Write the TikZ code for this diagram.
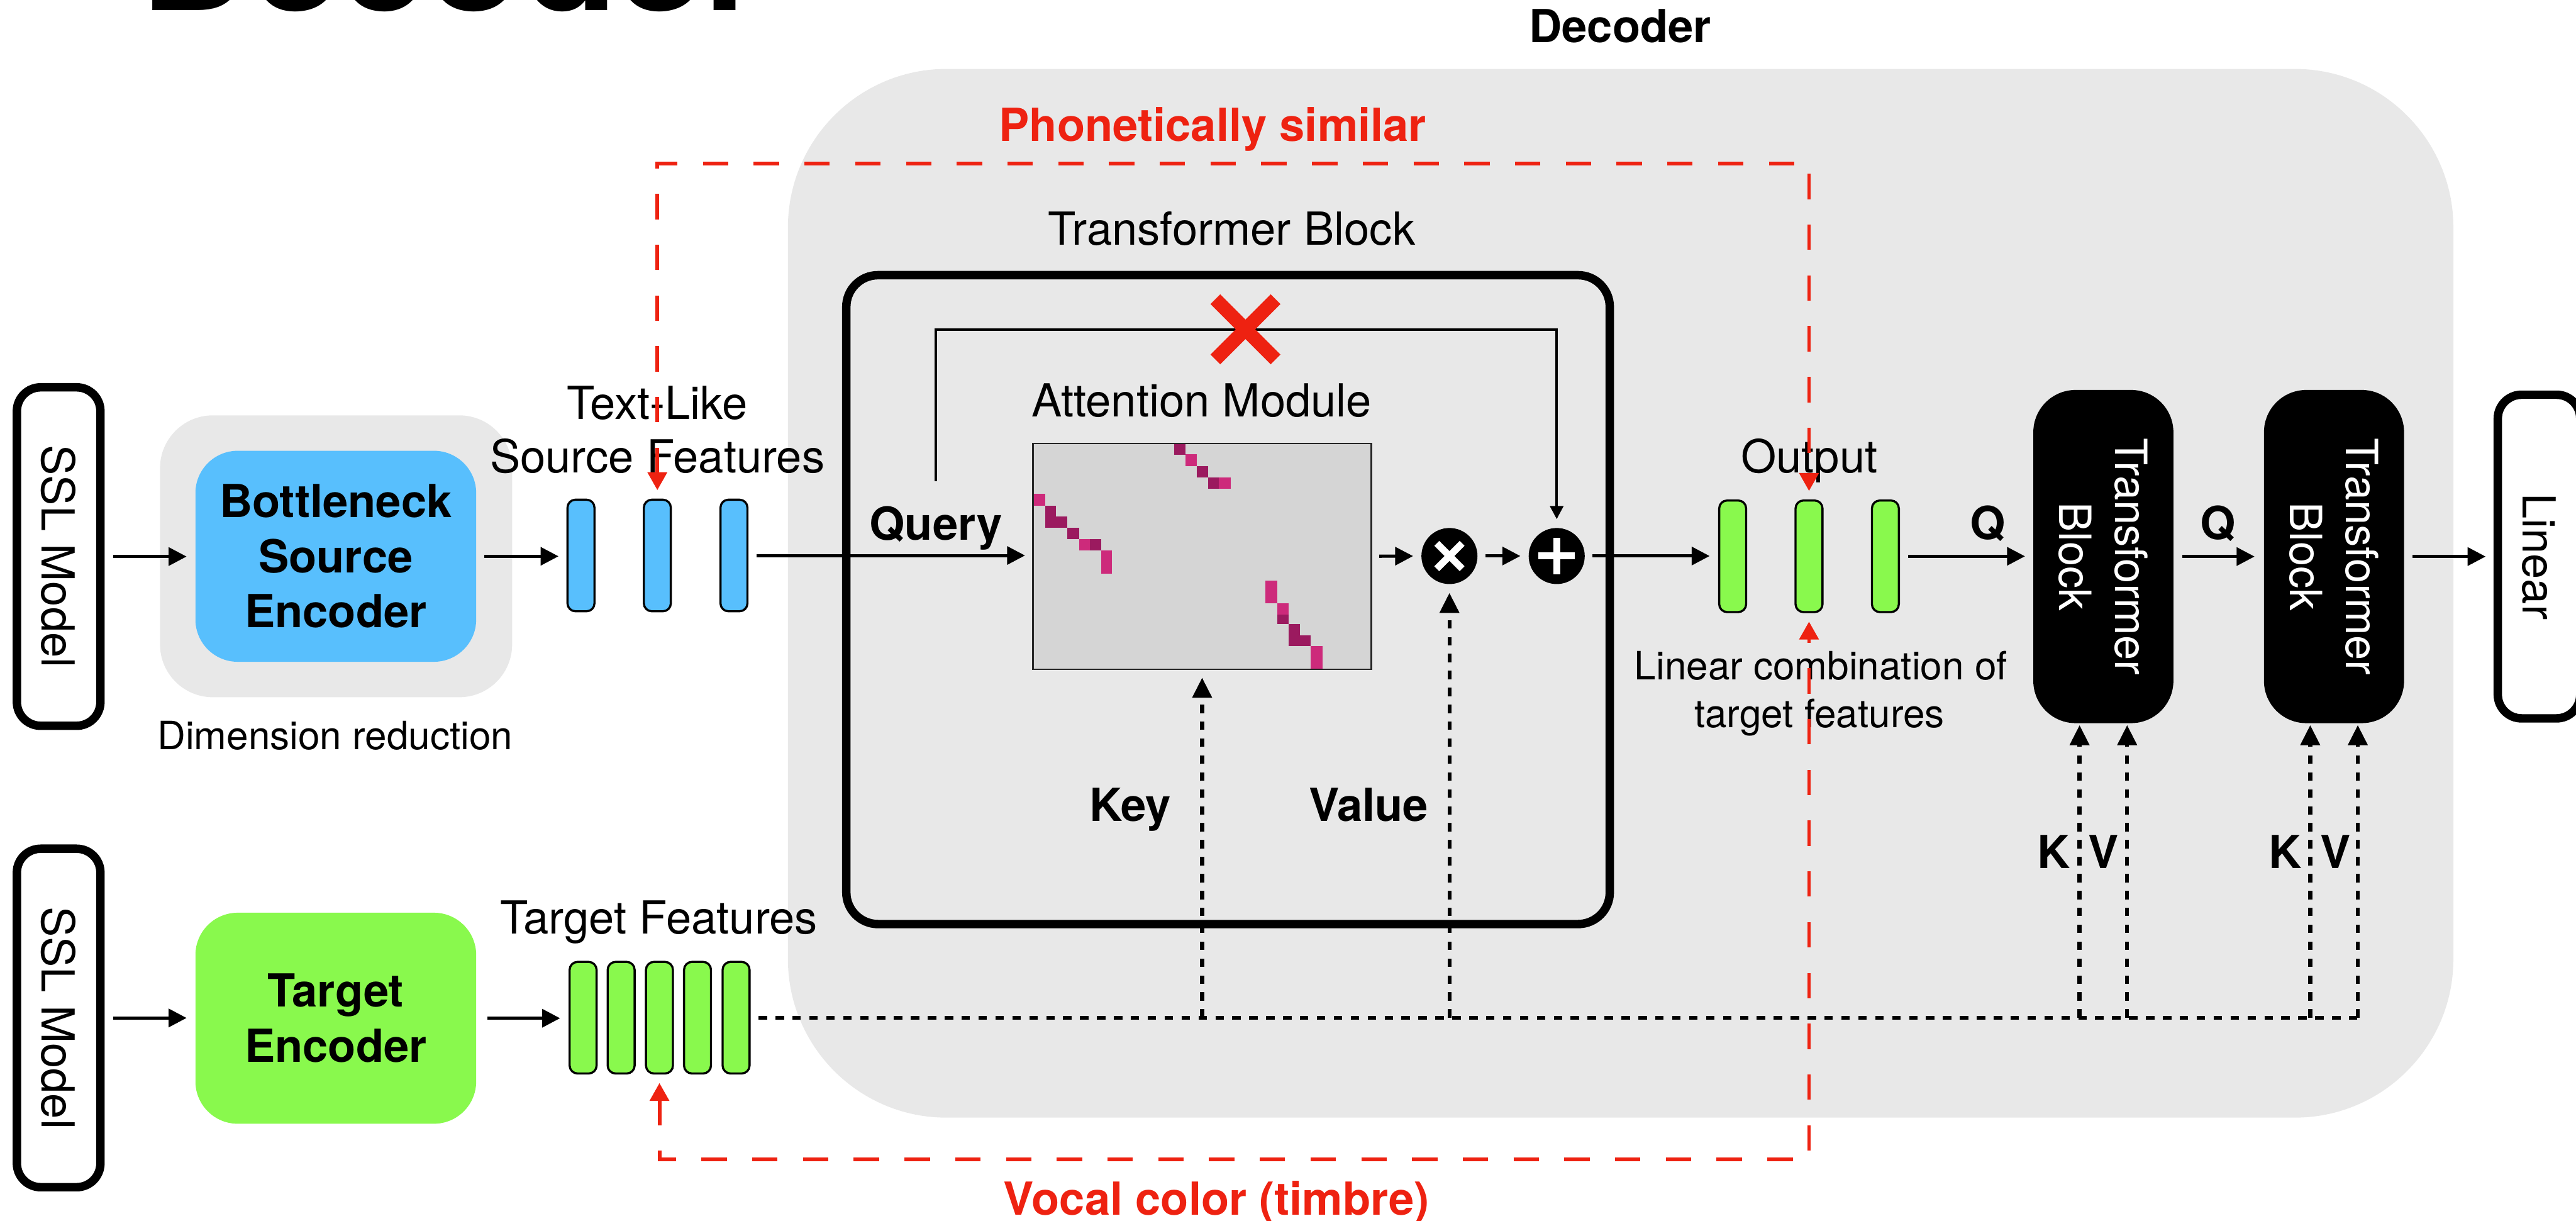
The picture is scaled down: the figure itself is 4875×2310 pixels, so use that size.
\documentclass[tikz,border=0pt]{standalone}
\usepackage{fontspec}
\setmainfont{TeX Gyre Heros}
\usetikzlibrary{arrows.meta}

\definecolor{regiongray}{HTML}{E8E8E8}
\definecolor{encblue}{HTML}{58BFFD}
\definecolor{encgreen}{HTML}{89F94D}
\definecolor{matgray}{HTML}{D5D5D5}
\definecolor{attdark}{HTML}{9B1A5F}
\definecolor{attpink}{HTML}{CD2A7B}
\definecolor{hlred}{HTML}{EE2211}

\newcommand\fsMain{\fontsize{24.5}{29.6}\selectfont}
\newcommand\fsSmall{\fontsize{21}{25.9}\selectfont}
\newcommand\fsBlock{\fontsize{23.9}{29.9}\selectfont}

\begin{document}
\begin{tikzpicture}[x=0.01cm, y=-0.01cm,
  txt/.style={inner sep=0pt, font=\fsMain},
  btxt/.style={inner sep=0pt, font=\fsMain\bfseries},
  stxt/.style={inner sep=0pt, font=\fsSmall},
  redtxt/.style={btxt, text=hlred},
  arr/.style={line width=0.06cm, -{Triangle[length=0.34cm,width=0.34cm]}, shorten <=0.15cm, shorten >=0.15cm},
  skiparr/.style={line width=0.05cm, -{Triangle[length=0.25cm,width=0.25cm]}, shorten >=0.16cm},
  dotline/.style={line width=0.075cm, dash pattern=on 0.16cm off 0.16cm},
  dotarr/.style={dotline, -{Triangle[length=0.38cm,width=0.36cm]}, shorten >=0.16cm},
  redarr/.style={hlred, line width=0.07cm, dash pattern=on 0.48cm off 0.48cm,
    {Triangle[length=0.34cm,width=0.36cm]}-{Triangle[length=0.34cm,width=0.36cm]},
    shorten <=0.16cm, shorten >=0.16cm},
  modelbox/.style={draw, line width=0.16cm, rounded corners=0.45cm, minimum width=1.58cm, minimum height=6.40cm, inner sep=0pt},
  encbox/.style={rounded corners=0.8cm, minimum width=5.31cm, minimum height=3.99cm, inner sep=0pt, align=center, font=\fsMain\bfseries},
  blockbox/.style={fill=black, rounded corners=0.8cm, minimum width=2.65cm, minimum height=6.30cm, inner sep=0pt},
  feat/.style={draw, line width=0.04cm, rounded corners=0.15cm, minimum width=0.51cm, minimum height=2.11cm, inner sep=0pt},
  vtxt/.style={inner sep=0pt, rotate=-90, font=\fsMain},
  opcirc/.style={circle, fill=black, minimum size=1.06cm, inner sep=0pt},
  opsym/.style={white, line width=0.13cm}
]
\clip (0,0) rectangle (4875,2310);

% decoder background region and titles
\node[fill=regiongray, rounded corners=3cm, minimum width=31.5cm, minimum height=19.83cm, inner sep=0pt] (decregion) at (3067,1122.5) {};
\node[inner sep=0pt, anchor=base west, font=\fontsize{84}{90}\selectfont\bfseries] (bigdec) at (265,20) {Decoder};
\node[btxt, anchor=base] (dectitle) at (3066,80) {Decoder};

% input side
\node[modelbox] (ssl1) at (111,1053) {};
\node[vtxt] (ssl1t) at (ssl1) {SSL Model};
\node[modelbox] (ssl2) at (111,1926) {};
\node[vtxt] (ssl2t) at (ssl2) {SSL Model};

\node[fill=regiongray, rounded corners=1cm, minimum width=6.66cm, minimum height=5.33cm, inner sep=0pt] (dimred) at (636,1052.5) {};
\node[encbox, fill=encblue] (bsrc) at (635.5,1052.5) {Bottleneck\\Source\\Encoder};
\node[stxt, anchor=base] (dimlbl) at (634,1418) {Dimension reduction};
\node[encbox, fill=encgreen] (tenc) at (635.5,1926.5) {Target\\Encoder};

% feature columns
\foreach \i/\x in {1/1099.5, 2/1244, 3/1389}
  \node[feat, fill=encblue] (tl\i) at (\x,1051) {};
\foreach \i/\x in {1/3279, 2/3423.5, 3/3568}
  \node[feat, fill=encgreen] (out\i) at (\x,1052.5) {};
\foreach \i/\x in {1/1103.5, 2/1175.5, 3/1248, 4/1320, 5/1393}
  \node[feat, fill=encgreen] (tf\i) at (\x,1925.5) {};

\node[txt, anchor=base] (tlA) at (1244,793) {Text-Like};
\node[txt, anchor=base] (tlB) at (1244,895) {Source Features};
\node[txt, anchor=base] (tflbl) at (1247,1767) {Target Features};
\node[txt, anchor=base] (outlbl) at (3424,895) {Output};
\node[stxt, anchor=base] (lcA) at (3446,1286) {Linear combination of};
\node[stxt, anchor=base] (lcB) at (3443,1377) {target features};

% transformer block with attention module
\node[draw, line width=0.16cm, rounded corners=0.6cm, minimum width=14.44cm, minimum height=12.27cm, inner sep=0pt] (tblock) at (2324,1134.5) {};
\node[txt, anchor=base] (tblbl) at (2331,463) {Transformer Block};
\node[txt, anchor=base] (attlbl) at (2274,788) {Attention Module};

\node[fill=matgray, minimum width=6.40cm, minimum height=4.27cm, inner sep=0pt, outer sep=0pt] (mat) at (2275,1052.5) {};
\begin{scope}[shift={(mat.north west)}]
  % alignment cells
  \fill[attdark] (267,0) rectangle (288.5,22);
  \fill[attpink] (288.5,21) rectangle (310,43);
  \fill[attdark] (310,43) rectangle (331,64);
  \fill[attdark] (331,64) rectangle (352,86);
  \fill[attpink] (352,64) rectangle (374,86);
  \fill[attpink] (1,96) rectangle (23,118);
  \fill[attdark] (23,118) rectangle (44,138);
  \fill[attdark] (23,138) rectangle (65,160);
  \fill[attdark] (65,160) rectangle (87,181);
  \fill[attpink] (87,181) rectangle (108,203);
  \fill[attdark] (108,181) rectangle (129,203);
  \fill[attpink] (129,203) rectangle (150,246);
  \fill[attpink] (440,260) rectangle (462,302);
  \fill[attpink] (462,302) rectangle (484,324);
  \fill[attdark] (462,324) rectangle (484,342);
  \fill[attdark] (484,342) rectangle (505,384);
  \fill[attdark] (505,363) rectangle (526,384);
  \fill[attpink] (526,384) rectangle (548,427);
\end{scope}
\draw[black!85, line width=0.03cm] (mat.north west) rectangle (mat.south east);

\node[opcirc] (times) at (2743,1052) {};
\draw[opsym] ([shift={(-24,-24)}]times.center) -- ([shift={(24,24)}]times.center);
\draw[opsym] ([shift={(-24,24)}]times.center) -- ([shift={(24,-24)}]times.center);
\node[opcirc] (plus) at (2946,1052) {};
\draw[opsym] ([shift={(-34.5,0)}]plus.center) -- ([shift={(34.5,0)}]plus.center);
\draw[opsym] ([shift={(0,-34.5)}]plus.center) -- ([shift={(0,34.5)}]plus.center);

\node[btxt, anchor=base] (query) at (1771,1022) {Query};
\node[btxt, anchor=base] (keylbl) at (2139,1554) {Key};
\node[btxt, anchor=base] (vallbl) at (2590,1554) {Value};

% residual path, cut
\draw[skiparr] ([yshift=0.47cm]query.north) -- ++(0,-287) -| (plus.north);
\coordinate (cut) at (2357,623);
\draw[hlred, line width=0.26cm] ([shift={(-57,-57)}]cut) -- ([shift={(57,57)}]cut)
  ([shift={(57,-57)}]cut) -- ([shift={(-57,57)}]cut);

% stacked decoder blocks and output layer
\node[blockbox] (tb1) at (3980.5,1053) {};
\node[vtxt, text=white, align=center, font=\fsBlock] (tb1t) at (tb1) {Transformer\\Block};
\node[blockbox] (tb2) at (4417,1053) {};
\node[vtxt, text=white, align=center, font=\fsBlock] (tb2t) at (tb2) {Transformer\\Block};
\node[modelbox, minimum width=1.56cm, minimum height=6.12cm] (lin) at (4805,1053) {};
\node[vtxt] (lint) at (lin) {Linear};

\node[btxt, anchor=base] (q1) at (3762,1020) {Q};
\node[btxt, anchor=base] (q2) at (4197,1020) {Q};
\node[btxt, anchor=base] (k1l) at (3887,1643) {K};
\node[btxt, anchor=base] (v1l) at (3981,1643) {V};
\node[btxt, anchor=base] (k2l) at (4325,1643) {K};
\node[btxt, anchor=base] (v2l) at (4420,1643) {V};

\coordinate (k1) at ([xshift=-0.45cm]tb1.south);
\coordinate (v1) at ([xshift=0.45cm]tb1.south);
\coordinate (k2) at ([xshift=-0.45cm]tb2.south);
\coordinate (v2) at ([xshift=0.45cm]tb2.south);

% solid data flow
\draw[arr, shorten <=0.16cm, shorten >=0.16cm] (ssl1.east) -- (ssl1.east -| bsrc.west);
\draw[arr] (bsrc.east) -- (bsrc.east -| tl1.west);
\draw[arr] (tl3.east) -- (tl3.east -| mat.west);
\draw[arr] (mat.east) -- (times.west);
\draw[arr] (times.east) -- (plus.west);
\draw[arr, shorten <=0.14cm, shorten >=0.16cm] (plus.east) -- (plus.east -| out1.west);
\draw[arr] (out3.east) -- (out3.east -| tb1.west);
\draw[arr, shorten <=0.16cm, shorten >=0.17cm] (tb1.east) -- (tb1.east -| tb2.west);
\draw[arr] (tb2.east) -- (tb2.east -| lin.west);
\draw[arr, shorten <=0.16cm, shorten >=0.16cm] (ssl2.east) -- (ssl2.east -| tenc.west);
\draw[arr, shorten <=0.2cm, shorten >=0.16cm] (tenc.east) -- (tenc.east -| tf1.west);

% key / value feeds from the target features
\draw[dotline] ([xshift=0.15cm]tf5.east) -- (v2 |- tf5.east);
\draw[dotarr] (mat.south |- tf5.east) -- (mat.south);
\draw[dotarr] (times.south |- tf5.east) -- (times.south);
\draw[dotarr, shorten >=0.03cm] (k1 |- tf5.east) -- (k1);
\draw[dotarr, shorten >=0.03cm] (v1 |- tf5.east) -- (v1);
\draw[dotarr, shorten >=0.03cm] (k2 |- tf5.east) -- (k2);
\draw[dotarr, shorten >=0.03cm] (v2 |- tf5.east) -- (v2);

% highlighted correspondences
\coordinate (rtop) at (0,309);
\coordinate (rbot) at (0,2194);
\draw[redarr] (tl2.north) -- (tl2.north |- rtop) -| (out2.north);
\draw[redarr] (tf3.south) -- (tf3.south |- rbot) -| (out2.south);
\node[redtxt, anchor=base] (phon) at (2295,267) {Phonetically similar};
\node[redtxt, anchor=base] (vocal) at (2302,2299) {Vocal color (timbre)};
\end{tikzpicture}
\end{document}
